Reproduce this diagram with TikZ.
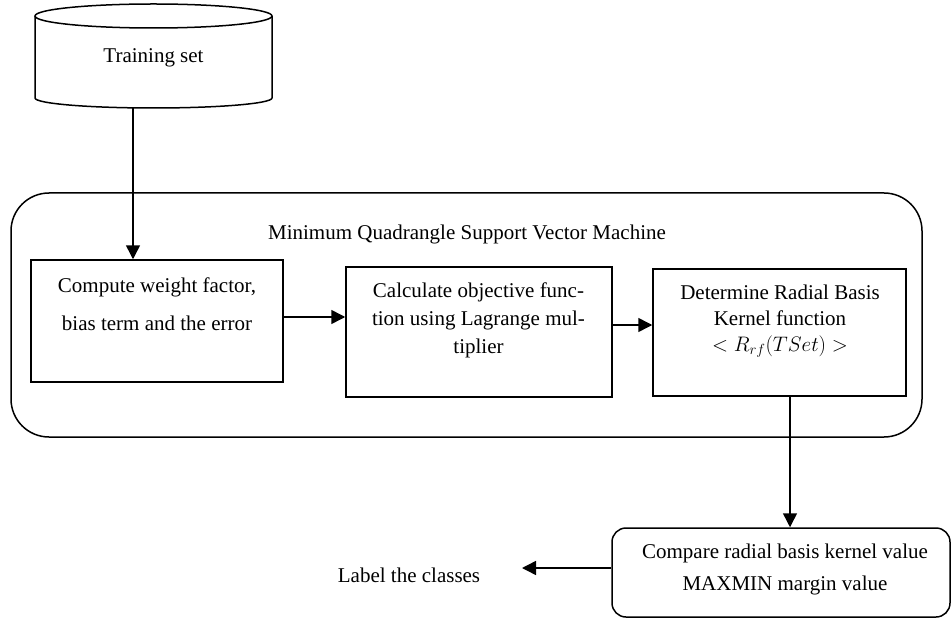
\RequirePackage{fix-cm}
\documentclass[tikz,border=0pt]{standalone}
\usepackage{fontspec}
\setmainfont{Liberation Serif}
\usetikzlibrary{arrows.meta}
\tikzset{
  ln/.style={line width=1.5pt},
  arr/.style={ln, -{Triangle[length=14pt,width=14pt]}},
  boxnode/.style={draw, ln, inner sep=0pt},
  txt/.style={align=center, inner sep=0pt, font=\fontsize{21}{#1}\selectfont},
  txt/.default=27,
}
\begin{document}
\begin{tikzpicture}[x=1pt,y=-1pt]
\useasboundingbox (0,0) rectangle (952,620);
% cylinder
\draw[ln] (35,16) -- (35,98) arc[start angle=180,end angle=360,x radius=118.5pt,y radius=10pt] -- (272,16);
\draw[ln] (153.5,16) ellipse[x radius=118.5pt, y radius=12pt];
\node[txt] (ts) at (153.5,58) {Training set};
\coordinate (tsb) at (133,108);
% big container
\node[boxnode, rounded corners=38pt, minimum width=911pt, minimum height=244pt] (msvm) at (466.5,315) {};
\node[txt] (title) at (467,234) {Minimum Quadrangle Support Vector Machine};
% boxes
\node[boxnode, minimum width=252pt, minimum height=122pt] (b1) at (157,321) {};
\node[txt=38] (t1) at (157,304) {Compute weight factor,\\bias term and the error};
\node[boxnode, minimum width=266pt, minimum height=130pt] (b2) at (479,332) {};
\node[txt=28] (t2) at (478.5,320) {Calculate objective func-\\tion using Lagrange mul-\\tiplier};
\node[boxnode, minimum width=253pt, minimum height=127pt] (b3) at (779.5,332.5) {};
\node[txt=26] (t3) at (780,321) {Determine Radial Basis\\Kernel function\\$<R_{rf}(TSet)>$};
\node[boxnode, rounded corners=14pt, minimum width=338pt, minimum height=89pt] (rb) at (781,572.5) {};
\node[txt=32] (t4) at (785,569) {Compare radial basis kernel value\\MAXMIN margin value};
\node[txt] (lab) at (409,575) {Label the classes};
\coordinate (tip) at (522,568);
% connectors
\draw[arr] (tsb) -- (tsb |- b1.north);
\draw[arr] ([yshift=4pt]b1.east) coordinate (a1) -- (a1 -| b2.west);
\draw[arr] ([yshift=7pt]b2.east) coordinate (a2) -- (a2 -| b3.west);
\draw[arr] ([xshift=10.5pt]b3.south) coordinate (a3) -- (a3 |- rb.north);
\draw[arr] (rb.west |- tip) -- (tip);
\end{tikzpicture}
\end{document}
